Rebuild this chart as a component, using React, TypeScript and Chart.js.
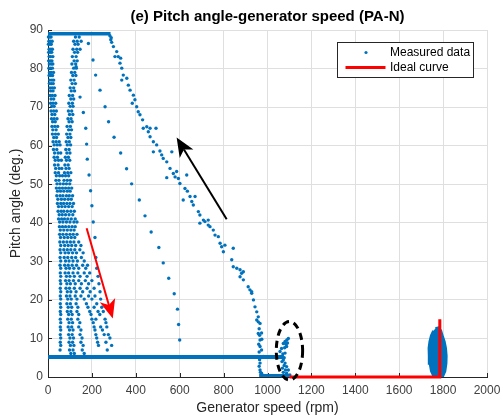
import { useEffect, useRef } from 'react';
import { Chart, registerables } from 'chart.js';

Chart.register(...registerables);

const CHART_TITLE = '(e) Pitch angle-generator speed (PA-N)';
const X_LABEL = 'Generator speed (rpm)';
const Y_LABEL = 'Pitch angle (deg.)';
const SERIES_NAMES = ['Measured data', 'Ideal curve'];
const X_TICKS = [0, 200, 400, 600, 800, 1000, 1200, 1400, 1600, 1800, 2000];
const Y_TICKS = [0, 10, 20, 30, 40, 50, 60, 70, 80, 90];

// Dense fan of measured points at low speed: [pitch, [speeds...]]
const fanRows: [number, number[]][] = [
  [88.2, [2, 8, 14, 125, 142]],
  [87.1, [4, 11, 19, 117, 133, 151]],
  [86.3, [2, 9, 15, 123, 137]],
  [85.0, [5, 13, 20, 114, 131, 146]],
  [84.2, [3, 10, 17, 121, 135]],
  [83.1, [5, 12, 22, 111, 128]],
  [82.0, [3, 11, 18, 119, 133]],
  [81.2, [6, 15, 22, 109, 126]],
  [80.1, [4, 12, 20, 117, 129]],
  [79.0, [7, 14, 25, 107, 122]],
  [78.2, [5, 13, 21, 113, 127]],
  [77.0, [8, 18, 26, 104, 119]],
  [76.1, [6, 15, 24, 110, 125]],
  [75.0, [9, 19, 29, 101, 117]],
  [74.2, [12, 23, 106, 121]],
  [73.0, [10, 20, 32, 97, 112]],
  [72.1, [14, 26, 104, 117]],
  [71.0, [12, 23, 35, 95, 111]],
  [70.2, [17, 28, 101, 114]],
  [69.0, [14, 26, 38, 93, 108]],
  [68.1, [18, 31, 98, 113]],
  [67.0, [16, 28, 41, 91, 105]],
  [66.2, [21, 33, 96, 110]],
  [65.0, [18, 31, 44, 87, 102]],
  [64.1, [22, 37, 94, 107]],
  [63.0, [20, 34, 47, 85, 100]],
  [62.1, [26, 39, 91, 104]],
  [61.0, [23, 37, 51, 83, 97]],
  [60.2, [28, 42, 55, 88, 103]],
  [59.0, [25, 40, 81, 96]],
  [58.1, [30, 46, 58, 86, 100]],
  [57.0, [28, 43, 79, 93]],
  [56.2, [33, 48, 61, 84, 99]],
  [55.0, [30, 46, 77, 92]],
  [54.1, [35, 51, 63, 82, 96]],
  [53.0, [33, 48, 75, 90, 104]],
  [52.2, [38, 53, 66, 80, 94]],
  [51.0, [36, 50, 73, 88, 102]],
  [50.1, [41, 55, 70, 84, 99]],
  [49.0, [38, 52, 66, 80, 94, 108]],
  [48.2, [43, 57, 72, 88, 101]],
  [47.0, [40, 55, 68, 84, 97, 112]],
  [46.1, [45, 61, 76, 92, 106]],
  [45.0, [43, 58, 71, 86, 100, 116]],
  [44.2, [48, 63, 78, 94, 110]],
  [43.0, [46, 60, 72, 88, 104, 120]],
  [42.1, [51, 65, 80, 96, 113]],
  [41.0, [48, 62, 75, 90, 106, 124]],
  [40.2, [53, 68, 84, 100, 118, 132]],
  [39.0, [52, 66, 80, 95, 110, 124]],
  [38.1, [56, 72, 88, 104, 119]],
  [37.0, [53, 68, 84, 100, 115, 132]],
  [36.2, [57, 74, 90, 106, 122]],
  [35.0, [54, 70, 86, 102, 118, 140]],
  [34.1, [58, 76, 92, 108, 126, 150]],
  [33.0, [55, 72, 88, 104, 122, 145]],
  [32.2, [58, 78, 94, 112, 130, 160]],
  [31.0, [55, 74, 90, 108, 126, 152, 218]],
  [30.1, [58, 80, 96, 114, 134, 165]],
  [29.0, [55, 76, 92, 110, 130, 158, 180]],
  [28.2, [58, 82, 98, 118, 140, 172, 222]],
  [27.0, [56, 78, 94, 114, 136, 165, 190]],
  [26.1, [58, 84, 100, 120, 146, 178, 228]],
  [25.0, [56, 80, 96, 116, 140, 170, 200]],
  [24.2, [58, 86, 102, 124, 152, 185, 232]],
  [23.0, [56, 82, 98, 120, 146, 178, 210]],
  [22.1, [58, 88, 104, 128, 158, 192, 237]],
  [21.0, [56, 84, 100, 124, 150, 185, 214]],
  [20.2, [58, 90, 106, 132, 165, 200, 240]],
  [19.0, [56, 86, 102, 128, 175, 222]],
  [18.1, [58, 92, 108, 136, 182, 210, 245]],
  [17.0, [56, 88, 104, 132, 190, 228, 252]],
  [16.2, [58, 94, 110, 140, 196, 236]],
  [15.0, [56, 90, 106, 136, 200, 218, 260]],
  [14.1, [58, 96, 112, 145, 206, 264]],
  [13.0, [56, 92, 108, 140, 210, 240, 268]],
  [12.2, [58, 98, 114, 150, 214, 248]],
  [11.0, [56, 94, 110, 146, 218, 256, 275]],
  [10.1, [58, 100, 116, 155, 222, 282]],
  [9.0, [56, 96, 112, 150, 226, 264]],
  [8.2, [58, 102, 118, 160, 230, 290]],
  [7.0, [55, 98, 114, 156, 270]],
  [6.1, [104, 120, 165]],
];

// Sparse trace between the fan and the long slope
const sparseTraceA: [number, number][] = [
  [128, 80.5], [146, 72.6], [161, 68.6], [172, 64.5], [176, 60.4], [179, 56.5], [187, 52.4],
  [194, 48.3], [200, 44.4], [206, 40.2], [214, 36.2],
];

// Sparse long trace from 86 deg to 10 deg
const sparseTraceB: [number, number][] = [
  [184, 86.5], [205, 82.2], [217, 78.3], [237, 74.4], [260, 70.1], [276, 66.2], [301, 62.2],
  [331, 58.1], [358, 54.0], [381, 50.1], [416, 45.9], [442, 41.8], [470, 37.6], [505, 33.6],
  [525, 29.6], [550, 25.6], [575, 21.6], [590, 17.6], [595, 13.6], [600, 9.6],
];

// Main descending trace (about 280 rpm @ 89 deg to 970 rpm @ 0 deg)
const mainTrace: [number, number][] = [
  [282, 88.5], [286, 87.5], [290, 86.8], [288, 88], [298, 85.7], [305, 83.1], [313, 84.4],
  [320, 83.1], [331, 82.7], [328, 81.4], [336, 80.1], [343, 78.3], [336, 77.0], [359, 77.5],
  [366, 75.7], [374, 74.4], [389, 73.1], [384, 71.0], [396, 71.9], [404, 70.1], [411, 68.8],
  [419, 68.0], [431, 66.7], [434, 64.5], [450, 64.9], [457, 63.6], [465, 64.5], [492, 64.5],
  [465, 62.3], [480, 61.0], [495, 60.2], [480, 58.4], [510, 58.6], [518, 57.6], [525, 56.7],
  [564, 58.4], [541, 55.8], [556, 54.1], [571, 52.8], [541, 51.7], [579, 51.9], [594, 51.5],
  [586, 53.3], [601, 50.2], [632, 52.4], [624, 48.9], [635, 48.2], [616, 45.9], [647, 46.8],
  [655, 45.5], [662, 44.6], [670, 46.8], [685, 42.9], [692, 42.0], [692, 39.9], [715, 40.3],
  [708, 40.7], [730, 40.7], [738, 39.0], [730, 39.4], [753, 38.1], [761, 36.8], [776, 36.4],
  [784, 34.7], [791, 33.8], [806, 34.2], [799, 32.5], [844, 33.4], [837, 30.4], [844, 28.6],
  [860, 28.2], [875, 27.8], [882, 26.9], [890, 27.3], [875, 26.0], [890, 25.2], [912, 23.4],
  [920, 22.6], [928, 21.7], [936, 20.0], [943, 18.2], [951, 16.9], [958, 15.6], [951, 14.8],
  [966, 13.9], [958, 11.3], [966, 9.6], [966, 7.9], [973, 7.0], [966, 3.6], [966, 1.8],
  [973, 0.5], [928, 22.1], [958, 14.3], [973, 11.4], [974, 9.8], [981, 5.3], [973, 1.0],
  [962, 12.5], [964, 10.8], [960, 8.5], [962, 6.5], [964, 4.5], [962, 2.8], [968, 1.2],
];

// Points inside the dashed ellipse
const ellipseCluster: [number, number][] = [
  [1064, 0.3], [1072, 1.2], [1068, 2.3], [1076, 3.0], [1072, 4.4], [1080, 3.6], [1087, 2.7],
  [1095, 1.8], [1102, 0.5], [1087, 1.0], [1064, 5.3], [1057, 6.6], [1064, 7.4], [1072, 8.7],
  [1080, 9.2], [1088, 9.6], [1095, 10.0], [1087, 7.9], [1080, 6.2], [1076, 5.0], [1070, 6.0],
  [1084, 8.5], [1091, 8.8], [1078, 7.6], [1066, 4.0], [1082, 1.8],
];

// Dense bands of measured data (drawn as thick strokes)
const topBand: [number, number][] = [[0, 89], [285, 89]];
const lowBand: [number, number][] = [[0, 5.2], [1075, 5.2]];
const zeroBand: [number, number][] = [[962, 0.4], [1100, 0.4]];

// Outline of the dense cluster around 1780 rpm
const clusterOutline: [number, number][] = [
  [1765, 12.6], [1778, 12.8], [1790, 12.0], [1798, 10.5], [1806, 9.2], [1812, 7.5],
  [1815, 5.5], [1814, 3.5], [1809, 1.5], [1800, 0.3], [1756, 0.3], [1746, 1.5],
  [1740, 3.5], [1736, 5.5], [1735, 7.5], [1739, 9.2], [1746, 10.8], [1756, 12.0],
];

const idealCurve: [number, number][] = [[1100, 0], [1785, 0], [1785, 15]];

// Annotations in data units: [tailX, tailY, tipX, tipY]
const blackArrow = [814, 40.9, 586, 62.1];
const redArrow = [176, 38.6, 295, 15.2];
// Dashed ellipse: [centerX, centerY, radiusX, radiusY]
const dashedEllipse = [1100, 6.8, 60, 7.6];

const BLUE = '#0072BD';
const RED = '#FF0000';
const AXIS = '#262626';
const FONT = "'Liberation Sans', Arial, sans-serif";

const toPts = (arr: [number, number][]) => arr.map(([x, y]) => ({ x, y }));

function drawArrow(ctx: CanvasRenderingContext2D, x1: number, y1: number, x2: number, y2: number, color: string) {
  const ang = Math.atan2(y2 - y1, x2 - x1);
  const c = Math.cos(ang), s = Math.sin(ang);
  const L = 19, W = 8, N = 5;
  ctx.save();
  ctx.strokeStyle = color;
  ctx.fillStyle = color;
  ctx.lineWidth = 2;
  ctx.beginPath();
  ctx.moveTo(x1, y1);
  ctx.lineTo(x2 - (L - N) * c, y2 - (L - N) * s);
  ctx.stroke();
  const bx = x2 - L * c, by = y2 - L * s;
  const px = -s, py = c;
  ctx.beginPath();
  ctx.moveTo(x2, y2);
  ctx.lineTo(bx + W * px, by + W * py);
  ctx.lineTo(x2 - (L - N) * c, y2 - (L - N) * s);
  ctx.lineTo(bx - W * px, by - W * py);
  ctx.closePath();
  ctx.fill();
  ctx.restore();
}

const decorPlugin = {
  id: 'decor',
  beforeDatasetsDraw(chart: any) {
    const { ctx, chartArea: a, scales } = chart;
    ctx.save();
    ctx.strokeStyle = AXIS;
    ctx.lineWidth = 1;
    ctx.beginPath();
    X_TICKS.forEach((v) => {
      const px = Math.round(scales.x.getPixelForValue(v)) + 0.5;
      ctx.moveTo(px, a.bottom);
      ctx.lineTo(px, a.bottom - 4);
    });
    Y_TICKS.forEach((v) => {
      const py = Math.round(scales.y.getPixelForValue(v)) + 0.5;
      ctx.moveTo(a.left, py);
      ctx.lineTo(a.left + 4, py);
    });
    ctx.stroke();
    ctx.restore();
  },
  afterDatasetsDraw(chart: any) {
    const { ctx, scales } = chart;
    const X = (v: number) => scales.x.getPixelForValue(v);
    const Y = (v: number) => scales.y.getPixelForValue(v);
    drawArrow(ctx, X(blackArrow[0]), Y(blackArrow[1]), X(blackArrow[2]), Y(blackArrow[3]), '#000');
    drawArrow(ctx, X(redArrow[0]), Y(redArrow[1]), X(redArrow[2]), Y(redArrow[3]), RED);
    const [cx, cy, rx, ry] = dashedEllipse;
    ctx.save();
    ctx.strokeStyle = '#000';
    ctx.lineWidth = 3;
    ctx.setLineDash([7, 5]);
    ctx.beginPath();
    ctx.ellipse(X(cx), Y(cy), Math.abs(X(cx + rx) - X(cx)), Math.abs(Y(cy + ry) - Y(cy)), 0, 0, Math.PI * 2);
    ctx.stroke();
    ctx.restore();
  },
  afterDraw(chart: any) {
    const { ctx, chartArea: a } = chart;
    const midX = (a.left + a.right) / 2;
    ctx.save();
    ctx.textAlign = 'center';
    ctx.textBaseline = 'middle';
    ctx.fillStyle = '#000';
    ctx.font = `bold 15px ${FONT}`;
    ctx.fillText(CHART_TITLE, midX, a.top - 13.5);
    ctx.fillStyle = AXIS;
    ctx.font = `14px ${FONT}`;
    ctx.fillText(X_LABEL, midX, a.bottom + 31);
    ctx.translate(16, (a.top + a.bottom) / 2);
    ctx.rotate(-Math.PI / 2);
    ctx.fillText(Y_LABEL, 0, 0);
    ctx.restore();

    // legend
    const bw = 136, bh = 35;
    const bx = Math.round(a.right - 14 - bw) + 0.5;
    const by = Math.round(a.top + 12) + 0.5;
    ctx.save();
    ctx.fillStyle = '#fff';
    ctx.fillRect(bx, by, bw, bh);
    ctx.strokeStyle = AXIS;
    ctx.lineWidth = 1;
    ctx.strokeRect(bx, by, bw, bh);
    ctx.fillStyle = BLUE;
    ctx.beginPath();
    ctx.arc(bx + 28.5, by + 10, 1.6, 0, Math.PI * 2);
    ctx.fill();
    ctx.strokeStyle = RED;
    ctx.lineWidth = 3;
    ctx.beginPath();
    ctx.moveTo(bx + 8, by + 25);
    ctx.lineTo(bx + 48, by + 25);
    ctx.stroke();
    ctx.fillStyle = '#000';
    ctx.font = `12px ${FONT}`;
    ctx.textAlign = 'left';
    ctx.textBaseline = 'middle';
    ctx.fillText(SERIES_NAMES[0], bx + 52.5, by + 10);
    ctx.fillText(SERIES_NAMES[1], bx + 52.5, by + 25);
    ctx.restore();
  },
};

export default function App() {
  const ref = useRef<HTMLCanvasElement>(null);
  useEffect(() => {
    const fanPts = fanRows.flatMap(([y, xs]) => xs.map((x) => ({ x, y })));
    const measured = [
      ...fanPts,
      ...toPts(sparseTraceA),
      ...toPts(sparseTraceB),
      ...toPts(mainTrace),
      ...toPts(ellipseCluster),
    ];
    const bandStyle = {
      showLine: true,
      borderColor: BLUE,
      backgroundColor: BLUE,
      pointRadius: 0,
      borderCapStyle: 'butt',
      clip: false,
    };
    const chart = new Chart(ref.current as HTMLCanvasElement, {
      type: 'scatter',
      data: {
        datasets: [
          {
            label: SERIES_NAMES[1],
            data: toPts(idealCurve),
            showLine: true,
            borderColor: RED,
            backgroundColor: RED,
            borderWidth: 3,
            pointRadius: 0,
            clip: false,
          },
          {
            label: SERIES_NAMES[0],
            data: measured,
            pointRadius: 1.7,
            pointBorderWidth: 0,
            backgroundColor: BLUE,
            borderColor: BLUE,
            clip: false,
          },
          { label: 'band89', data: toPts(topBand), borderWidth: 3.5, ...bandStyle },
          { label: 'band5', data: toPts(lowBand), borderWidth: 4, ...bandStyle },
          { label: 'band0', data: toPts(zeroBand), borderWidth: 3, ...bandStyle },
          {
            label: 'cluster1780',
            data: toPts(clusterOutline),
            showLine: true,
            borderColor: BLUE,
            backgroundColor: BLUE,
            borderWidth: 2.5,
            pointRadius: 0,
            fill: 'shape',
            clip: false,
          },
        ] as any,
      },
      options: {
        responsive: false,
        animation: false,
        devicePixelRatio: 1,
        layout: { padding: { top: 30, right: 16, left: 0, bottom: 0 } },
        plugins: { legend: { display: false }, title: { display: false }, tooltip: { enabled: false } },
        scales: {
          x: {
            type: 'linear',
            min: 0,
            max: 2000,
            afterBuildTicks: (s: any) => { s.ticks = X_TICKS.map((value) => ({ value })); },
            afterFit: (s: any) => {
              s.height = 42;
              s.paddingLeft = 0;
              s.paddingRight = 0;
            },
            grid: { color: '#dfdfdf', drawTicks: false },
            border: { display: true, color: AXIS, width: 1 },
            ticks: {
              color: '#404040',
              font: { family: FONT, size: 12 },
              padding: 6,
              maxRotation: 0,
              callback: (v: any) => String(v),
            },
          },
          y: {
            type: 'linear',
            min: 0,
            max: 90,
            afterBuildTicks: (s: any) => { s.ticks = Y_TICKS.map((value) => ({ value })); },
            afterFit: (s: any) => {
              s.width = 48;
              s.paddingTop = 0;
              s.paddingBottom = 0;
            },
            grid: { color: '#dfdfdf', drawTicks: false },
            border: { display: true, color: AXIS, width: 1 },
            ticks: {
              color: '#404040',
              font: { family: FONT, size: 12 },
              padding: 5,
              callback: (v: any) => String(v),
            },
          },
        },
      } as any,
      plugins: [decorPlugin],
    });
    return () => chart.destroy();
  }, []);
  return (
    <div style={{ position: 'absolute', left: 0, top: 0, width: 503, height: 419, background: '#fff' }}>
      <canvas ref={ref} width={503} height={419} />
    </div>
  );
}
